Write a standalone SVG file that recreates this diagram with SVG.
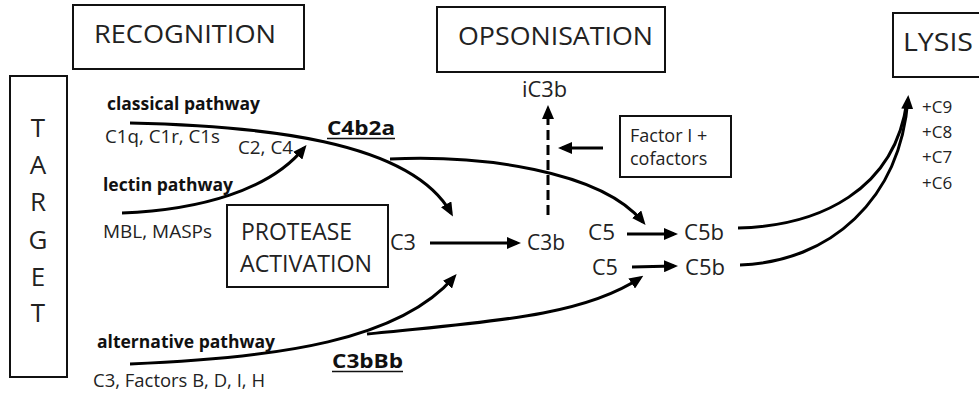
<svg xmlns="http://www.w3.org/2000/svg" width="979" height="398" viewBox="0 0 979 398">
<style>
text{font-family:"Open Sans","Liberation Sans",sans-serif;fill:#222}
.box{fill:#fff;stroke:#111;stroke-width:2}
.big{font-size:25px}
.mid{font-size:21px}
.sm{font-size:18px}
.b{font-weight:bold;fill:#111}
.c{fill:none;stroke:#000;stroke-width:3}
.ul{stroke:#111;stroke-width:1.5}
</style>
<defs>
<marker id="ah" viewBox="0 0 14 12" markerWidth="14" markerHeight="12" markerUnits="userSpaceOnUse" refX="10" refY="6" orient="auto">
<path d="M0,0 L14,6 L0,12 z" fill="#000"/>
</marker>
</defs>
<rect width="979" height="398" fill="#fff"/>

<g id="connectors">
<path class="c" d="M130,123 C260,126 410,140 451,213" marker-end="url(#ah)"/>
<path class="c" d="M390,159 C480,155 600,170 643,222" marker-end="url(#ah)"/>
<path class="c" d="M122,213 C200,210 270,190 304,148" marker-end="url(#ah)"/>
<path class="c" d="M130,364 C280,358 400,340 454,277" marker-end="url(#ah)"/>
<path class="c" d="M367,334 C480,322 580,318 640,278" marker-end="url(#ah)"/>
<path class="c" d="M430,243 L517,243" marker-end="url(#ah)"/>
<path class="c" d="M548,215 L548,109" stroke-dasharray="10 5" marker-end="url(#ah)"/>
<path class="c" d="M603,148 L562,148" marker-end="url(#ah)"/>
<path class="c" d="M627,234 L674,234" marker-end="url(#ah)"/>
<path class="c" d="M632,267 L674,266" marker-end="url(#ah)"/>
<path class="c" d="M738,228 C820,226 895,190 907,101"/>
<path class="c" d="M740,265 C830,262 900,200 908,99" marker-end="url(#ah)"/>
</g>

<g id="target">
<rect class="box" x="10" y="76" width="57" height="301"/>
<text font-size="26" text-anchor="middle"><tspan x="38" y="137">T</tspan><tspan x="38" y="174">A</tspan><tspan x="38" y="211">R</tspan><tspan x="38" y="249">G</tspan><tspan x="38" y="286">E</tspan><tspan x="38" y="322">T</tspan></text>
</g>

<g id="recognition">
<rect class="box" x="73" y="5" width="231" height="64"/>
<text class="big" x="94" y="43" textLength="182" lengthAdjust="spacingAndGlyphs">RECOGNITION</text>
</g>

<g id="opsonisation">
<rect class="box" x="437" y="7" width="228" height="65"/>
<text class="big" x="458" y="45" textLength="195" lengthAdjust="spacingAndGlyphs">OPSONISATION</text>
</g>

<g id="lysis">
<rect class="box" x="893" y="13" width="100" height="64"/>
<text class="big" x="903" y="51" textLength="70" lengthAdjust="spacingAndGlyphs">LYSIS</text>
</g>

<g id="protease">
<rect class="box" x="227" y="205" width="161" height="82"/>
<text x="241" y="240" font-size="23" textLength="111" lengthAdjust="spacingAndGlyphs">PROTEASE</text>
<text x="240" y="272" font-size="23" textLength="132" lengthAdjust="spacingAndGlyphs">ACTIVATION</text>
</g>

<g id="factor-i">
<rect class="box" x="620" y="116" width="111" height="61"/>
<text class="sm" x="630" y="142">Factor I +</text>
<text class="sm" x="630" y="165">cofactors</text>
</g>

<g id="classical">
<text class="b" x="107" y="110" font-size="17" textLength="153" lengthAdjust="spacingAndGlyphs">classical pathway</text>
<text class="sm" x="105" y="143" textLength="115" lengthAdjust="spacingAndGlyphs">C1q, C1r, C1s</text>
<text class="sm" x="238" y="154" textLength="55" lengthAdjust="spacingAndGlyphs">C2, C4</text>
</g>

<g id="lectin">
<text class="b" x="103" y="191" font-size="17" textLength="130" lengthAdjust="spacingAndGlyphs">lectin pathway</text>
<text class="sm" x="103" y="238" textLength="109" lengthAdjust="spacingAndGlyphs">MBL, MASPs</text>
</g>

<g id="alternative">
<text class="b" x="97" y="348" font-size="17" textLength="178" lengthAdjust="spacingAndGlyphs">alternative pathway</text>
<text class="sm" x="93" y="387" textLength="172" lengthAdjust="spacingAndGlyphs">C3, Factors B, D, I, H</text>
</g>

<g id="c4b2a">
<text class="b" x="327" y="135" font-size="19" textLength="68" lengthAdjust="spacingAndGlyphs">C4b2a</text>
<line class="ul" x1="327" y1="138.5" x2="395" y2="138.5"/>
</g>

<g id="c3bbb">
<text class="b" x="332" y="368" font-size="19" textLength="71" lengthAdjust="spacingAndGlyphs">C3bBb</text>
<line class="ul" x1="332" y1="371.5" x2="403" y2="371.5"/>
</g>

<g id="c3"><text class="mid" x="390" y="250" textLength="26" lengthAdjust="spacingAndGlyphs">C3</text></g>
<g id="c3b"><text class="mid" x="527" y="250" textLength="38" lengthAdjust="spacingAndGlyphs">C3b</text></g>
<g id="ic3b"><text class="mid" x="522" y="97" textLength="45" lengthAdjust="spacingAndGlyphs">iC3b</text></g>
<g id="c5-top"><text class="mid" x="588" y="240" textLength="27" lengthAdjust="spacingAndGlyphs">C5</text></g>
<g id="c5b-top"><text class="mid" x="684" y="240" textLength="40" lengthAdjust="spacingAndGlyphs">C5b</text></g>
<g id="c5-bottom"><text class="mid" x="592" y="275" textLength="26" lengthAdjust="spacingAndGlyphs">C5</text></g>
<g id="c5b-bottom"><text class="mid" x="685" y="275" textLength="40" lengthAdjust="spacingAndGlyphs">C5b</text></g>

<g id="mac">
<text x="922" y="113" font-size="17">+C9</text>
<text x="922" y="138" font-size="17">+C8</text>
<text x="922" y="163" font-size="17">+C7</text>
<text x="922" y="189" font-size="17">+C6</text>
</g>
</svg>
